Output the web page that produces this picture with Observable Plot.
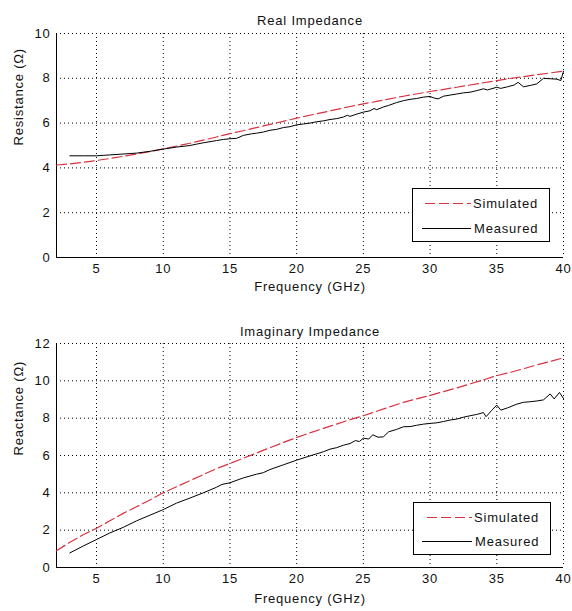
<!DOCTYPE html>
<html><head><meta charset="utf-8">
<script src="https://cdn.jsdelivr.net/npm/d3@7"></script>
<script src="https://cdn.jsdelivr.net/npm/@observablehq/plot@0.6"></script>
<style>
body{margin:0;background:#fff;}
#wrap{position:relative;width:572px;height:611px;font-family:"Liberation Sans",Arial,sans-serif;}
#wrap svg text{font-weight:400;}
.legend{position:absolute;}
.legend text{font-family:"Liberation Sans",Arial,sans-serif;font-size:13px;letter-spacing:0.8px;fill:#111;}
</style>
</head><body>
<div id="wrap"></div>
<script>
// ---- data ----
const xDomain = [2, 40];
const xTicks = [5, 10, 15, 20, 25, 30, 35, 40];
const resTicks = [0, 2, 4, 6, 8, 10];
const reaTicks = [0, 2, 4, 6, 8, 10, 12];
const seriesNames = ["Simulated", "Measured"];

// Real impedance - simulated
const resSimF = [2,3,4,5,6,7,8,9,10,12,14,15,16,18,20,22,24,25,26,28,30,32,34,35,36,38,40];
const resSimV = [4.13,4.18,4.25,4.33,4.42,4.52,4.62,4.73,4.85,5.1,5.38,5.53,5.66,5.94,6.22,6.48,6.74,6.86,6.97,7.2,7.41,7.6,7.8,7.9,7.99,8.16,8.32];
// Real impedance - measured
const resMeasF = [3,4,5,5.5,6,7,7.5,8,9,10,11,12,12.5,13,14,14.5,15,15.5,16,16.6,17,17.5,18,18.5,19,19.5,20,20.5,21,21.5,22,22.5,23,23.5,23.8,24,24.5,25,25.5,25.8,26,26.5,26.9,27.5,28,28.5,29,29.5,30,30.3,30.6,31,31.5,32,32.5,33,33.5,34,34.3,35,35.3,35.8,36.3,36.6,37,37.5,38,38.5,39,39.5,39.8,40];
const resMeasV = [4.54,4.54,4.54,4.56,4.58,4.62,4.64,4.66,4.74,4.84,4.93,5.0,5.06,5.12,5.22,5.27,5.3,5.32,5.45,5.52,5.55,5.6,5.68,5.72,5.8,5.84,5.92,5.96,6.0,6.06,6.1,6.16,6.2,6.27,6.35,6.3,6.4,6.49,6.55,6.65,6.6,6.72,6.79,6.92,7.0,7.06,7.1,7.16,7.19,7.12,7.08,7.2,7.25,7.3,7.35,7.38,7.45,7.53,7.48,7.6,7.55,7.62,7.7,7.82,7.62,7.68,7.75,8.0,7.98,7.96,7.9,8.32];

// Imaginary impedance - simulated
const reaSimF = [2,3,4,5,6,7,8,9,10,12,14,15,16,18,20,22,24,25,26,28,30,32,34,35,36,38,40];
const reaSimV = [0.9,1.35,1.75,2.1,2.5,2.9,3.25,3.62,4.0,4.65,5.3,5.57,5.85,6.42,6.97,7.45,7.92,8.13,8.37,8.85,9.22,9.62,10.05,10.28,10.45,10.85,11.23];
// Imaginary impedance - measured
const reaMeasF = [3,4,5,6,7,8,9,10,11,12,13,14,14.4,15,16,17,17.5,18,19,20,21,22,22.5,23,23.5,24,24.4,24.7,25,25.4,25.7,26.1,26.5,26.9,27.5,28,28.5,29,29.5,30,30.5,31,31.5,32,32.5,33,33.5,34,34.2,34.6,35,35.3,35.8,36.5,37,37.5,38,38.5,39,39.3,39.7,40];
const reaMeasV = [0.78,1.15,1.5,1.85,2.15,2.5,2.8,3.1,3.45,3.72,4.0,4.3,4.45,4.54,4.8,5.0,5.08,5.25,5.5,5.75,5.98,6.2,6.34,6.42,6.55,6.64,6.8,6.75,6.93,6.88,7.11,6.98,7.0,7.27,7.4,7.54,7.55,7.62,7.68,7.72,7.75,7.82,7.9,7.95,8.05,8.13,8.2,8.3,8.08,8.4,8.7,8.43,8.55,8.75,8.85,8.88,8.92,8.98,9.3,9.03,9.38,9.05];

const RED = "#d8323e";
const DASH = "10,4";
const zip = (f, v) => f.map((x, i) => ({f: x, v: v[i]}));

function makePlot(o) {
  return Plot.plot({
    width: 572, height: o.height,
    marginLeft: 56, marginRight: 9, marginTop: o.marginTop, marginBottom: o.marginBottom,
    style: {fontFamily: '"Liberation Sans", Arial, sans-serif', fontSize: "13px", fontWeight: "400", letterSpacing: "0.8px", background: "#fff", color: "#111", overflow: "visible"},
    x: {domain: xDomain, ticks: xTicks, label: null},
    y: {domain: o.yDomain, ticks: o.yTicks, label: null},
    marks: [
      Plot.gridX(xTicks, {stroke: "#000", strokeOpacity: 1, strokeDasharray: "1,3"}),
      Plot.gridY(o.yTicks, {stroke: "#000", strokeOpacity: 1, strokeDasharray: "1,3"}),
      Plot.ruleX([xDomain[0]], {stroke: "#000"}),
      Plot.ruleY([o.yDomain[0]], {stroke: "#000"}),
      Plot.line(o.sim, {x: "f", y: "v", stroke: RED, strokeWidth: 1.2, strokeDasharray: DASH}),
      Plot.line(o.meas, {x: "f", y: "v", stroke: "#000", strokeWidth: 1}),
      Plot.axisX(xTicks, {tickSize: 0, tickPadding: 6, label: null, fontWeight: "normal"}),
      Plot.axisY(o.yTicks, {tickSize: 0, tickPadding: 6, label: null, fontWeight: "normal"}),
      Plot.text([o.title], {frameAnchor: "top", dy: o.titleDy, fontWeight: "normal"}),
      Plot.text(["Frequency (GHz)"], {frameAnchor: "bottom", dy: o.xlabelDy, fontWeight: "normal"}),
      Plot.text([o.ylabel], {frameAnchor: "left", dx: -38, rotate: -90, fontWeight: "normal"})
    ]
  });
}

const wrap = document.getElementById("wrap");

const plotTop = makePlot({
  height: 300, marginTop: 33, marginBottom: 43,
  yDomain: [0, 10], yTicks: resTicks,
  sim: zip(resSimF, resSimV), meas: zip(resMeasF, resMeasV),
  title: "Real Impedance", titleDy: -18, xlabelDy: 33, ylabel: "Resistance (Ω)"
});
const plotBot = makePlot({
  height: 311, marginTop: 43, marginBottom: 44,
  yDomain: [0, 12], yTicks: reaTicks,
  sim: zip(reaSimF, reaSimV), meas: zip(reaMeasF, reaMeasV),
  title: "Imaginary Impedance", titleDy: -17, xlabelDy: 35, ylabel: "Reactance (Ω)"
});
plotTop.style.display = "block";
plotBot.style.display = "block";
wrap.appendChild(plotTop);
wrap.appendChild(plotBot);

function legend(left, topPx, w, h, l1, l2) {
  const svg = d3.create("svg").attr("class", "legend").attr("width", w + 1).attr("height", h + 1)
    .style("left", left + "px").style("top", topPx + "px");
  svg.append("rect").attr("x", 0.5).attr("y", 0.5).attr("width", w - 1).attr("height", h - 1)
    .attr("fill", "#fff").attr("stroke", "#000");
  svg.append("line").attr("x1", l1[0]).attr("x2", 59).attr("y1", l1[1] + 0.5).attr("y2", l1[1] + 0.5)
    .attr("stroke", RED).attr("stroke-width", 1.2).attr("stroke-dasharray", DASH);
  svg.append("line").attr("x1", l2[0]).attr("x2", 59).attr("y1", l2[1] + 0.5).attr("y2", l2[1] + 0.5)
    .attr("stroke", "#000");
  svg.append("text").attr("x", 61).attr("y", l1[1]).attr("dy", "0.35em").text(seriesNames[0]);
  svg.append("text").attr("x", 62).attr("y", l2[1]).attr("dy", "0.35em").text(seriesNames[1]);
  wrap.appendChild(svg.node());
}
legend(412, 188, 138, 54, [13, 15], [10, 40]);
legend(413, 502, 138, 53, [14, 15], [9, 39]);
</script>
</body></html>
